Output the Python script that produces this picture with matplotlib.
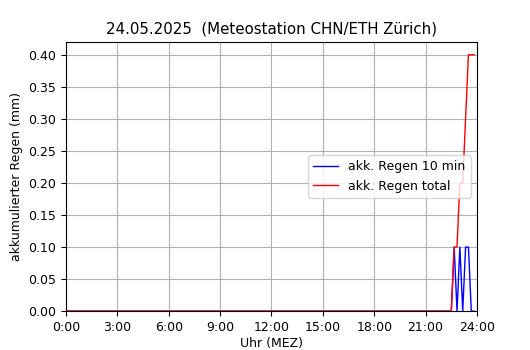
import numpy as np
import matplotlib
matplotlib.use("Agg")
import matplotlib.pyplot as plt

# 10-min Messwerte, 0:00 .. 23:50
minutes = np.arange(0, 1440, 10)
rain_10min = [0.0] * 135 + [0.0, 0.1, 0.0, 0.1, 0.0, 0.1, 0.1, 0.0, 0.0]
rain_total = [0.0] * 135 + [0.0, 0.1, 0.1, 0.2, 0.2, 0.3, 0.4, 0.4, 0.4]
xtick_hours = [0, 3, 6, 9, 12, 15, 18, 21, 24]
xtick_labels = ["0:00", "3:00", "6:00", "9:00", "12:00", "15:00", "18:00", "21:00", "24:00"]
yticks = [0.0, 0.05, 0.10, 0.15, 0.20, 0.25, 0.30, 0.35, 0.40]

fig = plt.figure(figsize=(5.3, 3.5), dpi=100)
ax = fig.add_axes([0.1245, 0.111, 0.7755, 0.769])

hours = minutes / 60.0
ax.plot(hours, rain_10min, color="blue", lw=1, label="akk. Regen 10 min")
ax.plot(hours, rain_total, color="red", lw=1, label="akk. Regen total")

ax.set_xlim(0, 24)
ax.set_ylim(0, 0.42)
ax.set_xticks(xtick_hours)
ax.set_xticklabels(xtick_labels)
ax.set_yticks(yticks)
ax.set_yticklabels(["%.2f" % v for v in yticks])
ax.tick_params(labelsize=9)
ax.grid(True, color="#b0b0b0", lw=0.8)

ax.set_xlabel("Uhr (MEZ)", fontsize=9, labelpad=2.5)
ax.set_ylabel("akkumulierter Regen (mm)", fontsize=9)
ax.set_title("24.05.2025  (Meteostation CHN/ETH Zürich)", fontsize=10.8)
ax.legend(loc="center right", fontsize=9)

fig.savefig("out.png", dpi=100)
